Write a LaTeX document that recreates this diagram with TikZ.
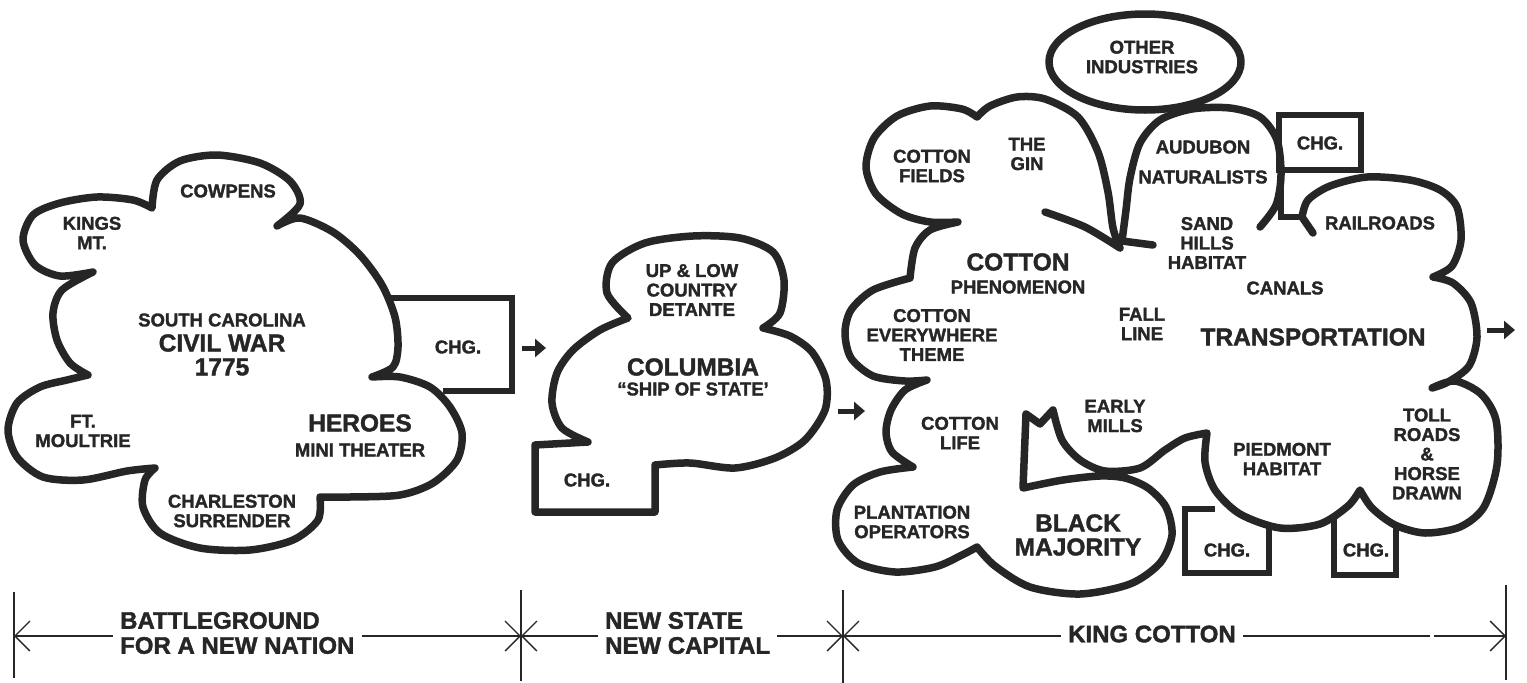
\documentclass[tikz,border=0pt]{standalone}
\usepackage{fontspec}
\setmainfont{Liberation Sans}[BoldFeatures={FakeBold=1.6}]
\usetikzlibrary{arrows.meta}
\definecolor{ink}{HTML}{262626}
\newcommand\smallfnt{\fontsize{18.5}{19.5}\selectfont\bfseries}
\newcommand\bigfnt{\fontsize{24.5}{24}\selectfont\bfseries}
\newcommand\spanfnt{\fontsize{24}{25}\selectfont\bfseries}
\tikzset{
  outline/.style={draw=ink, line width=7.5pt, line join=round, line cap=round},
  boxline/.style={draw=ink, line width=6.5pt, line join=miter},
  lbl/.style={text=ink, font=\smallfnt, align=center, inner sep=0pt},
  biglbl/.style={text=ink, font=\bigfnt, align=center, inner sep=0pt},
  spanlbl/.style={text=ink, font=\spanfnt, align=left, inner xsep=7pt, inner ysep=0pt, anchor=west},
  dimline/.style={draw=ink, line width=1.3pt},
  barb/.tip={Straight Barb[length=15pt,width=30pt]},
  flow/.style={draw=ink, line width=5pt, -{Triangle[length=11pt,width=18pt]}},
}
\begin{document}
\begin{tikzpicture}[x=1pt, y=-1pt]
\fill[white] (0,0) rectangle (1527,683);
\useasboundingbox (0,0) rectangle (1527,683);

% ---------- Battleground cloud ----------
\draw[outline]
  plot[smooth] coordinates {(152,208) (157,180) (180,161) (217,155) (260,163) (290,181) (300,204) (277,226)}
  -- plot[smooth] coordinates {(277,226) (300,218) (333,232) (360,255) (382,285) (395,317) (398,347) (393,367) (372,377)}
  -- plot[smooth] coordinates {(372,377) (400,377) (430,387) (450,407) (462,433) (457,460) (433,483) (400,495) (350,497) (320,497)}
  -- plot[smooth] coordinates {(320,497) (318,520) (293,540) (250,550) (200,548) (160,533) (143,507) (145,480) (155,468)}
  -- plot[smooth] coordinates {(155,468) (127,471) (83,480) (43,477) (17,457) (8,430) (17,403) (40,387) (67,380) (88,375)}
  -- plot[smooth] coordinates {(88,375) (70,363) (57,340) (53,313) (62,290) (93,272)}
  -- plot[smooth] coordinates {(93,272) (60,276) (35,265) (23,240) (33,215) (60,203) (97,197) (133,200) (152,208)}
  -- cycle;
\draw[boxline] (388,298) -- (512,298) -- (512,391) -- (443,391);

\node[lbl] (kings) at (92,233) {KINGS\\MT.};
\node[lbl] (cowpens) at (228,191) {COWPENS};
\node[lbl] (sc) at (222,320) {SOUTH CAROLINA};
\node[biglbl] (civil) at (222,343) {CIVIL WAR};
\node[biglbl] (year) at (222,367) {1775};
\node[lbl] (moultrie) at (83,431) {FT.\\MOULTRIE};
\node[biglbl] (heroes) at (360,423) {HEROES};
\node[lbl] (mini) at (360,450) {MINI THEATER};
\node[lbl] (charleston) at (232,511) {CHARLESTON\\SURRENDER};
\node[lbl] (chgA) at (458,347) {CHG.};

% ---------- Columbia cloud ----------
\draw[outline]
  (588,442) -- (535,445) -- (535,512) -- (655,512) -- (655,465)
  -- plot[smooth] coordinates {(655,465) (690,463) (735,468) (775,458) (805,440) (825,410) (826,380) (812,352) (790,336) (763,328)}
  -- plot[smooth] coordinates {(763,328) (780,313) (784,280) (773,252) (740,238) (693,236) (645,243) (612,263) (607,293) (628,318)}
  -- plot[smooth] coordinates {(628,318) (600,330) (573,350) (557,373) (552,403) (562,428) (588,442)}
  -- cycle;

\node[lbl] (detante) at (692,290) {UP \& LOW\\COUNTRY\\DETANTE};
\node[biglbl] (columbia) at (693,367) {COLUMBIA};
\node[lbl] (ship) at (693,389) {“SHIP OF STATE’};
\node[lbl] (chgB) at (587,480) {CHG.};

% ---------- King Cotton cloud ----------
\draw[outline, fill=white] (1145,62) ellipse [x radius=96pt, y radius=48pt];
\node[lbl] (other) at (1142,57) {OTHER\\INDUSTRIES};

\draw[outline]
  plot[smooth] coordinates {(1045,212) (1085,227) (1120,248)}
  -- plot[smooth] coordinates {(1120,248) (1113,228) (1108,192) (1098,152) (1078,117) (1045,99) (1017,97) (990,106) (977,117)}
  -- plot[smooth] coordinates {(977,117) (962,109) (930,106) (897,116) (874,138) (866,167) (876,194) (902,214) (930,222) (958,222)}
  -- plot[smooth] coordinates {(958,222) (930,230) (915,248) (910,278)}
  -- plot[smooth] coordinates {(910,278) (873,290) (851,310) (845,333) (851,358) (873,376) (905,381) (927,380)}
  -- plot[smooth] coordinates {(927,380) (905,390) (891,410) (886,432) (892,452) (913,467)}
  -- plot[smooth] coordinates {(913,467) (880,472) (853,485) (837,510) (838,540) (858,563) (895,572) (935,567) (962,555) (977,547)}
  -- plot[smooth] coordinates {(977,547) (995,566) (1030,587) (1080,594) (1130,584) (1160,563) (1172,535) (1166,507) (1148,488) (1125,478) (1100,476) (1063,480) (1023,488)}
  -- (1026,414) -- (1040,424) -- (1053,410)
  -- plot[smooth] coordinates {(1053,410) (1062,440) (1080,460) (1105,471) (1140,468) (1165,450) (1185,438) (1207,433)}
  -- plot[smooth] coordinates {(1207,433) (1205,462) (1215,490) (1240,514) (1280,528) (1320,524) (1348,506) (1360,490)}
  -- plot[smooth] coordinates {(1360,490) (1372,508) (1395,525) (1425,533) (1460,527) (1484,507) (1497,465) (1496,420) (1481,394) (1455,381) (1432,388)}
  -- plot[smooth] coordinates {(1432,388) (1448,382) (1469,366) (1477,337) (1471,303) (1453,283) (1433,277)}
  -- plot[smooth] coordinates {(1433,277) (1452,266) (1461,240) (1457,207) (1440,190) (1410,180) (1367,177) (1330,186) (1308,200) (1302,217)}
  -- (1313,233);

% Audubon lobe
\draw[outline]
  (1153,245) -- (1122,241)
  -- plot[smooth] coordinates {(1122,241) (1126,210) (1130,178) (1140,143) (1160,120) (1192,109) (1230,108) (1260,117) (1277,140) (1281,175) (1276,205) (1260,227)};

% change boxes
\draw[boxline] (1279,115) rectangle (1361,170);
\draw[boxline] (1281,170) -- (1281,217) -- (1302,217);
\draw[boxline] (1215,509) -- (1185,509) -- (1185,573) -- (1269,573) -- (1269,528);
\draw[boxline] (1334,515) -- (1334,575) -- (1396,575) -- (1396,528);

\node[lbl] (fields) at (932,166) {COTTON\\FIELDS};
\node[lbl] (gin) at (1027,154) {THE\\GIN};
\node[biglbl] (cotton) at (1018,262) {COTTON};
\node[lbl] (phen) at (1018,287) {PHENOMENON};
\node[lbl] (audubon) at (1203,147) {AUDUBON};
\node[lbl] (natur) at (1203,177) {NATURALISTS};
\node[lbl] (chgC) at (1320,143) {CHG.};
\node[lbl] (sand) at (1207,243) {SAND\\HILLS\\HABITAT};
\node[lbl] (rail) at (1380,223) {RAILROADS};
\node[lbl] (canals) at (1285,288) {CANALS};
\node[lbl] (fall) at (1142,324) {FALL\\LINE};
\node[biglbl] (trans) at (1313,337) {TRANSPORTATION};
\node[lbl] (every) at (932,335) {COTTON\\EVERYWHERE\\THEME};
\node[lbl] (life) at (960,433) {COTTON\\LIFE};
\node[lbl] (mills) at (1115,416) {EARLY\\MILLS};
\node[lbl] (plant) at (912,522) {PLANTATION\\OPERATORS};
\node[biglbl] (black) at (1078,535) {BLACK\\MAJORITY};
\node[lbl] (pied) at (1282,459) {PIEDMONT\\HABITAT};
\node[lbl] (toll) at (1427,454) {TOLL\\ROADS\\\&\\HORSE\\DRAWN};
\node[lbl] (chgD) at (1227,550) {CHG.};
\node[lbl] (chgE) at (1366,550) {CHG.};

% ---------- flow arrows ----------
\coordinate (f1s) at (522,348); \coordinate (f1e) at (546,348);
\coordinate (f2s) at (838,411); \coordinate (f2e) at (865,411);
\coordinate (f3s) at (1487,330); \coordinate (f3e) at (1515,330);
\draw[flow] (f1s) -- (f1e);
\draw[flow] (f2s) -- (f2e);
\draw[flow] (f3s) -- (f3e);

% ---------- time line ----------
\coordinate (t0) at (14,636);
\coordinate (t1) at (521,636);
\coordinate (t2) at (843,636);
\coordinate (t3) at (1506,636);
\coordinate (g1) at (1430,636);
\coordinate (g2) at (1434,636);
\draw[dimline] (14,592) -- (14,678);
\draw[dimline] (521,590) -- (521,681);
\draw[dimline] (843,590) -- (843,683);
\draw[dimline] (1506,585) -- (1506,680);

\node[spanlbl] (battle) at (113,633) {BATTLEGROUND\\FOR A NEW NATION};
\node[spanlbl] (newstate) at (598,633) {NEW STATE\\NEW CAPITAL};
\node[spanlbl] (king) at (1061,634) {KING COTTON};

\draw[dimline, barb-] (t0) -- (battle.west |- t0);
\draw[dimline, -barb] (battle.east |- t0) -- (t1);
\draw[dimline, barb-] (t1) -- (newstate.west |- t1);
\draw[dimline, -barb] (newstate.east |- t1) -- (t2);
\draw[dimline, barb-] (t2) -- (king.west |- t2);
\draw[dimline] (king.east |- t2) -- (g1);
\draw[dimline, -barb] (g2) -- (t3);
\end{tikzpicture}
\end{document}
